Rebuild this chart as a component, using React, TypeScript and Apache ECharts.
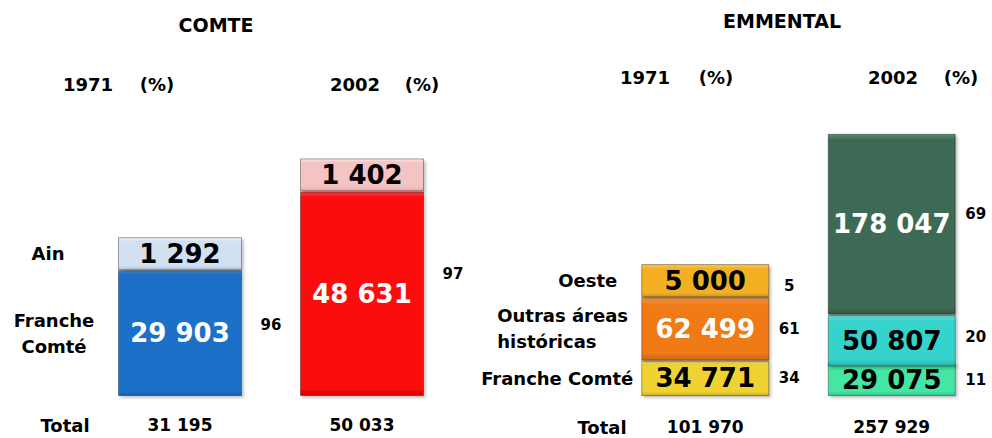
import React, { useEffect, useRef } from 'react';
import * as echarts from 'echarts';

// ---------- data ----------
const comteYears = ['1971', '2002'];
const comteFranche = [29903, 48631];
const comteAin = [1292, 1402];
const comteTotals = [31195, 50033];
const comteFranchePct = [96, 97];

const emmYears = ['1971', '2002'];
const emmFranche = [34771, 29075];
const emmOutras = [62499, 50807];
const emmOeste = [5000, 178047];
const emmTotals = [101970, 257929];
const emmFranchePct = [34, 11];
const emmOutrasPct = [61, 20];
const emmOestePct = [5, 69];

const FONT = 'DejaVu Sans';
const fmt = (v: number) => String(v).replace(/\B(?=(\d{3})+(?!\d))/g, ' ');

type Seg = {
  values: number[];
  pct: (number | null)[];
  pctOffset: number[];
  colors: [string, string, string][]; // highlight, base, dark
  textColors: string[];
  nameText?: string;
  nameAlign?: string;
  nameDistance?: number;
};

const grad = (c: [string, string, string], big: boolean) =>
  new echarts.graphic.LinearGradient(0, 0, 0, 1, [
    { offset: 0, color: c[0] },
    { offset: big ? 0.03 : 0.12, color: c[1] },
    { offset: big ? 0.97 : 0.88, color: c[1] },
    { offset: 1, color: c[2] },
  ]);

function buildSeries(gi: number, barWidth: number, segs: Seg[], pctDistance: number, bigMin: number) {
  const out: any[] = [];
  const common = {
    type: 'bar',
    xAxisIndex: gi,
    yAxisIndex: gi,
    barWidth,
    barGap: '-100%',
    barMinHeight: 33,
    silent: true,
  };
  segs.forEach((s, si) => {
    out.push({
      ...common,
      name: `main${gi}_${si}`,
      stack: `main${gi}`,
      z: 3,
      itemStyle: {
        borderColor: 'rgba(0,0,0,0.35)',
        borderWidth: 1,
        shadowColor: 'rgba(0,0,0,0.25)',
        shadowBlur: 3,
        shadowOffsetX: 2,
        shadowOffsetY: 2,
      },
      label: {
        show: true,
        position: 'inside',
        fontFamily: FONT,
        fontWeight: 'bold',
        fontSize: 26,
        formatter: (p: any) => fmt(p.value),
      },
      data: s.values.map((v, i) => ({
        value: v,
        itemStyle: { color: grad(s.colors[i], v > bigMin) },
        label: { color: s.textColors[i] },
      })),
    });
    out.push({
      ...common,
      name: `pct${gi}_${si}`,
      stack: `pct${gi}`,
      z: 2,
      itemStyle: { color: 'rgba(0,0,0,0)' },
      label: {
        show: true,
        position: 'right',
        distance: pctDistance,
        align: 'center',
        color: '#000',
        fontFamily: FONT,
        fontWeight: 'bold',
        fontSize: 15,
        formatter: (p: any) => (s.pct[p.dataIndex] == null ? '' : String(s.pct[p.dataIndex])),
      },
      data: s.values.map((v, i) => ({
        value: v,
        label: { show: s.pct[i] != null, offset: [0, s.pctOffset[i]] },
      })),
    });
    out.push({
      ...common,
      name: `name${gi}_${si}`,
      stack: `name${gi}`,
      z: 2,
      itemStyle: { color: 'rgba(0,0,0,0)' },
      label: {
        show: true,
        position: 'left',
        distance: s.nameDistance,
        align: s.nameAlign,
        color: '#000',
        fontFamily: FONT,
        fontWeight: 'bold',
        fontSize: 18,
        lineHeight: 26,
        formatter: () => s.nameText || '',
      },
      data: s.values.map((v, i) => ({
        value: v,
        label: { show: i === 0 && !!s.nameText },
      })),
    });
  });
  return out;
}

const comteSegs: Seg[] = [
  {
    values: comteFranche,
    pct: comteFranchePct,
    pctOffset: [-8, -20],
    colors: [
      ['#4d93dd', '#1f70c8', '#175aa5'],
      ['#ff4a4a', '#fb0808', '#d60000'],
    ],
    textColors: ['#ffffff', '#ffffff'],
    nameText: 'Franche\nComté',
    nameAlign: 'center',
    nameDistance: 64,
  },
  {
    values: comteAin,
    pct: [null, null],
    pctOffset: [0, 0],
    colors: [
      ['#eef4fb', '#d2e0f2', '#a9c0de'],
      ['#fce4e4', '#f4c3c3', '#e2a0a0'],
    ],
    textColors: ['#000000', '#000000'],
    nameText: 'Ain',
    nameAlign: 'center',
    nameDistance: 70,
  },
];

const emmSegs: Seg[] = [
  {
    values: emmFranche,
    pct: emmFranchePct,
    pctOffset: [0, 0],
    colors: [
      ['#f8e57a', '#f0d232', '#d0b21c'],
      ['#7cf0c4', '#45e6a4', '#2fc488'],
    ],
    textColors: ['#000000', '#000000'],
    nameText: 'Franche Comté',
    nameAlign: 'right',
    nameDistance: 8,
  },
  {
    values: emmOutras,
    pct: emmOutrasPct,
    pctOffset: [0, -4],
    colors: [
      ['#f59a50', '#ef7a17', '#d0650c'],
      ['#6ee3de', '#36d3cc', '#22b0aa'],
    ],
    textColors: ['#ffffff', '#000000'],
    nameText: 'Outras áreas\nhistóricas',
    nameAlign: 'left',
    nameDistance: 144,
  },
  {
    values: emmOeste,
    pct: emmOestePct,
    pctOffset: [5, -10],
    colors: [
      ['#f8cc5e', '#f4b023', '#d59614'],
      ['#5a8a72', '#3d6b55', '#2f5443'],
    ],
    textColors: ['#000000', '#ffffff'],
    nameText: 'Oeste',
    nameAlign: 'right',
    nameDistance: 24,
  },
];

const textEl = (text: string, x: number, y: number, size: number) => ({
  type: 'text',
  x,
  y,
  silent: true,
  style: {
    text,
    fill: '#000',
    fontFamily: FONT,
    fontWeight: 'bold',
    fontSize: size,
    align: 'center',
    verticalAlign: 'middle',
  },
});

export default function App() {
  const ref = useRef<HTMLDivElement>(null);
  useEffect(() => {
    if (!ref.current) return;
    const chart = echarts.init(ref.current, undefined, { renderer: 'svg' });
    const axisCommon = {
      type: 'category',
      axisLine: { show: false },
      axisTick: { show: false },
      splitLine: { show: false },
    };
    chart.setOption({
      animation: false,
      backgroundColor: '#ffffff',
      grid: [
        { left: 89, width: 364, top: 30, bottom: 42 },
        { left: 612, width: 373, top: 30, bottom: 42 },
      ],
      xAxis: [
        {
          ...axisCommon,
          gridIndex: 0,
          data: comteYears,
          axisLabel: {
            margin: 20,
            color: '#000',
            fontFamily: FONT,
            fontWeight: 'bold',
            fontSize: 17,
            formatter: (_v: string, i: number) => fmt(comteTotals[i]),
          },
        },
        {
          ...axisCommon,
          gridIndex: 1,
          data: emmYears,
          axisLabel: {
            margin: 22,
            color: '#000',
            fontFamily: FONT,
            fontWeight: 'bold',
            fontSize: 17,
            formatter: (_v: string, i: number) => fmt(emmTotals[i]),
          },
        },
      ],
      yAxis: [
        { type: 'value', gridIndex: 0, min: 0, max: 87000, show: false },
        { type: 'value', gridIndex: 1, min: 0, max: 360000, show: false },
      ],
      series: [
        ...buildSeries(0, 124, comteSegs, 29, 10000),
        ...buildSeries(1, 128, emmSegs, 20, 100000),
      ],
      graphic: [
        textEl('COMTE', 216, 25, 19),
        textEl('EMMENTAL', 782, 21, 19),
        textEl(comteYears[0], 88, 84, 18),
        textEl('(%)', 157, 84, 18),
        textEl(comteYears[1], 355, 84, 18),
        textEl('(%)', 422, 84, 18),
        textEl(emmYears[0], 645, 77, 18),
        textEl('(%)', 716, 77, 18),
        textEl(emmYears[1], 893, 77, 18),
        textEl('(%)', 961, 77, 18),
        textEl('Total', 65, 425, 18),
        textEl('Total', 602, 427, 18),
      ],
    });
    return () => chart.dispose();
  }, []);
  return (
    <div
      ref={ref}
      style={{ position: 'absolute', left: 0, top: 0, width: 992, height: 438, background: '#fff' }}
    />
  );
}
